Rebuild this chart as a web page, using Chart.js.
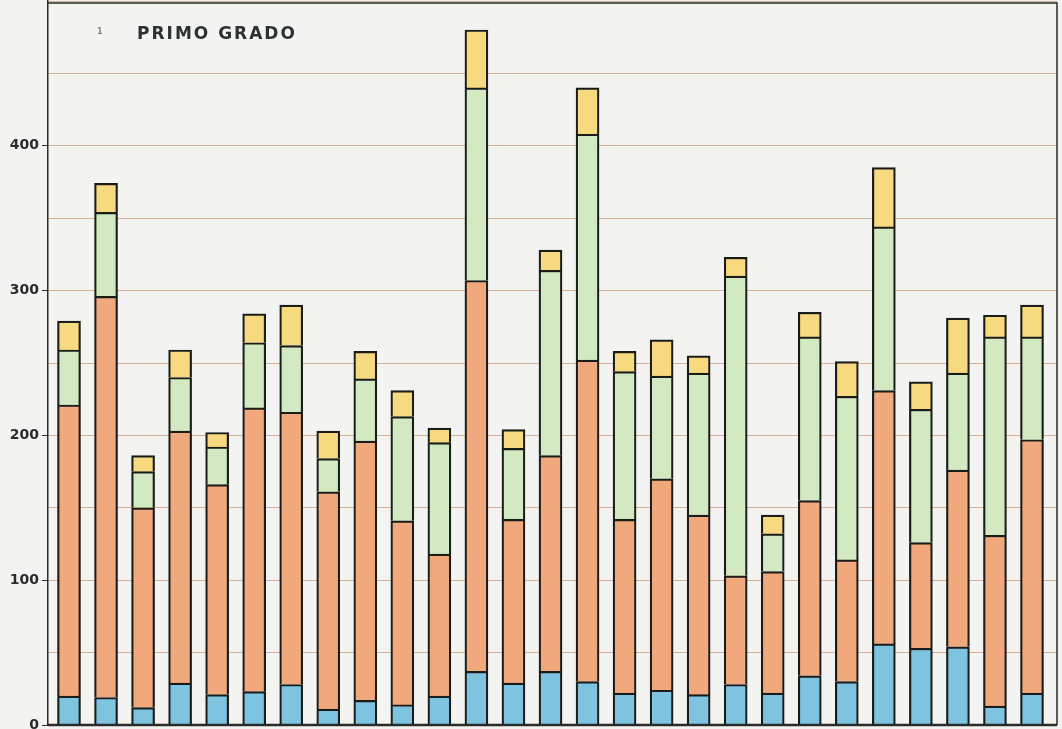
<!DOCTYPE html>
<html>
<head>
<meta charset="utf-8">
<script src="https://cdn.jsdelivr.net/npm/chart.js@4"></script>
<style>
  body { margin: 0; background: #f3f3f1; }
  #wrap { width: 1062px; height: 729px; }
</style>
</head>
<body>
<div id="wrap"><canvas id="myChart" width="1062" height="729"></canvas></div>
<script>
// values, one entry per bar (left to right)
const blue   = [20, 19, 12, 29, 21, 23, 28, 11, 17, 14, 20, 37, 29, 37, 30, 22, 24, 21, 28, 22, 34, 30, 56, 53, 54, 13, 22];
const orange = [201, 277, 138, 174, 145, 196, 188, 150, 179, 127, 98, 270, 113, 149, 222, 120, 146, 124, 75, 84, 121, 84, 175, 73, 122, 118, 175];
const green  = [38, 58, 25, 37, 26, 45, 46, 23, 43, 72, 77, 133, 49, 128, 156, 102, 71, 98, 207, 26, 113, 113, 113, 92, 67, 137, 71];
const yellow = [20, 20, 11, 19, 10, 20, 28, 19, 19, 18, 10, 40, 13, 14, 32, 14, 25, 12, 13, 13, 17, 24, 41, 19, 38, 15, 22];

const yTicks = [0, 100, 200, 300, 400];
const title = 'PRIMO GRADO';

function points(arr) {
    return arr.map(function(v, i){ return { x: i, y: v }; });
}

function seg(data, color) {
    return {
        data: points(data),
        backgroundColor: color,
        borderColor: '#1a1c19',
        borderWidth: { top: 2.2, right: 2.2, bottom: 0, left: 2.2 },
        borderSkipped: false,
        barThickness: 23
    };
}

// frame + title drawn on top of the bars
const frameAndTitle = {
    id: 'frameAndTitle',
    afterDraw(chart) {
        const c = chart.ctx;
        const a = chart.chartArea;
        c.save();
        c.strokeStyle = '#2a2c2a';
        c.lineWidth = 1.5;
        c.beginPath();
        c.moveTo(a.left, a.top + 2);
        c.lineTo(a.right, a.top + 2);
        c.lineTo(a.right, a.bottom);
        c.stroke();
        c.lineWidth = 2.5;
        c.beginPath();
        c.moveTo(a.left, a.bottom);
        c.lineTo(a.right, a.bottom);
        c.stroke();

        c.fillStyle = '#2b3230';
        c.font = 'bold 17px "DejaVu Sans"';
        c.letterSpacing = '2px';
        c.textBaseline = 'middle';
        c.fillText(title, a.left + 89, 35);
        c.letterSpacing = '0px';
        c.fillStyle = '#8d8a6c';
        c.font = 'bold 8px "DejaVu Sans"';
        c.fillText('1', a.left + 49, 32);
        c.restore();
    }
};

const ctx = document.getElementById('myChart').getContext('2d');
const myChart = new Chart(ctx, {
    type: 'bar',
    data: {
        datasets: [
            seg(blue, '#7ec3e0'),
            seg(orange, '#f1a87c'),
            seg(green, '#d3e9c2'),
            seg(yellow, '#f7d97f')
        ]
    },
    plugins: [frameAndTitle],
    options: {
        responsive: false,
        animation: false,
        layout: { padding: { top: 1, right: 5, bottom: 4, left: 0 } },
        plugins: {
            legend: { display: false },
            title: { display: false },
            tooltip: { enabled: false }
        },
        scales: {
            x: {
                type: 'linear',
                stacked: true,
                display: false,
                offset: false,
                bounds: 'data',
                min: -0.567,
                max: 26.675,
                grid: { offset: false }
            },
            y: {
                stacked: true,
                min: 0,
                max: 500,
                afterFit: function(scale){
                    scale.width = 48;
                    scale.paddingTop = 0;
                    scale.paddingBottom = 0;
                },
                border: { display: true, color: '#2a2c2a', width: 1.5 },
                grid: {
                    color: function(c){ return c.tick.value === 0 ? 'rgba(0,0,0,0)' : '#d6b092'; },
                    tickColor: function(c){ return yTicks.includes(c.tick.value) ? '#2a2c2a' : 'rgba(0,0,0,0)'; },
                    tickLength: 6,
                    lineWidth: 1
                },
                ticks: {
                    stepSize: 50,
                    padding: 3,
                    color: '#2a2c2a',
                    font: { family: 'DejaVu Sans', weight: 'bold', size: 14 },
                    callback: function(value){
                        return yTicks.includes(value) ? value : '';
                    }
                }
            }
        }
    }
});
</script>
</body>
</html>
